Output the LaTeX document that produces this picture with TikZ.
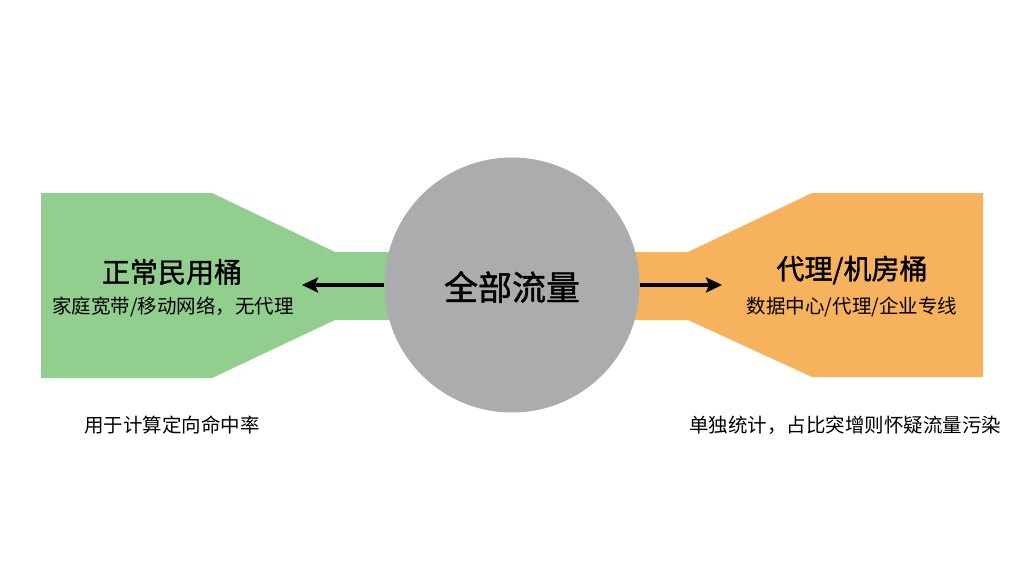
\documentclass[tikz,border=0pt]{standalone}
\usepackage{fontspec}
\setmainfont{Noto Sans CJK SC}
\newfontfamily\cjk{Noto Sans CJK SC}
\newfontfamily\cjkmed[FakeBold=1.2]{Noto Sans CJK SC}
\usetikzlibrary{arrows.meta}
\definecolor{bktgreen}{RGB}{146,206,142}
\definecolor{bktorange}{RGB}{247,178,94}
\definecolor{hubgray}{RGB}{171,172,174}
\tikzset{
  title/.style={font=\cjkmed\fontsize{28}{32}\selectfont, inner sep=0pt},
  sub/.style={font=\cjk\fontsize{19.5}{22}\selectfont, inner sep=0pt},
  note/.style={font=\cjk\fontsize{19.5}{22}\selectfont, inner sep=0pt},
  flow/.style={line width=3.4pt, -{Stealth[length=16pt,width=15pt,inset=3pt]}}
}
\begin{document}
\begin{tikzpicture}[x=1pt,y=-1pt]
\useasboundingbox (0,0) rectangle (1024,572);
\fill[white] (0,0) rectangle (1024,572);
% left bucket shape
\fill[bktgreen] (41,193) -- (212,193) -- (335,252) -- (420,252) -- (420,320) -- (335,320) -- (212,378) -- (41,378) -- cycle;
% right bucket shape
\fill[bktorange] (983,193) -- (812,193) -- (688,252) -- (600,252) -- (600,320) -- (688,320) -- (812,377) -- (983,377) -- cycle;
% center circle
\node[circle, fill=hubgray, minimum size=255pt, inner sep=0pt] (all) at (512,285) {};
\node[font=\cjkmed\fontsize{34}{38}\selectfont, inner sep=0pt] (alltext) at (512,287) {全部流量};
% left texts
\node[title] (ltitle) at (172,272) {正常民用桶};
\node[sub] (lsub) at (173,307) {家庭宽带/移动网络，无代理};
% right texts
\node[title] (rtitle) at (852,270) {代理/机房桶};
\node[sub] (rsub) at (852,307) {数据中心/代理/企业专线};
% notes
\node[note] (lnote) at (172,425) {用于计算定向命中率};
\node[note] (rnote) at (845,425) {单独统计，占比突增则怀疑流量污染};
% arrows
\coordinate (ltip) at (302,285);
\coordinate (rtip) at (722,285);
\draw[flow] (all.west |- 0,285) -- (ltip);
\draw[flow] (all.east |- 0,285) -- (rtip);
\end{tikzpicture}
\end{document}
